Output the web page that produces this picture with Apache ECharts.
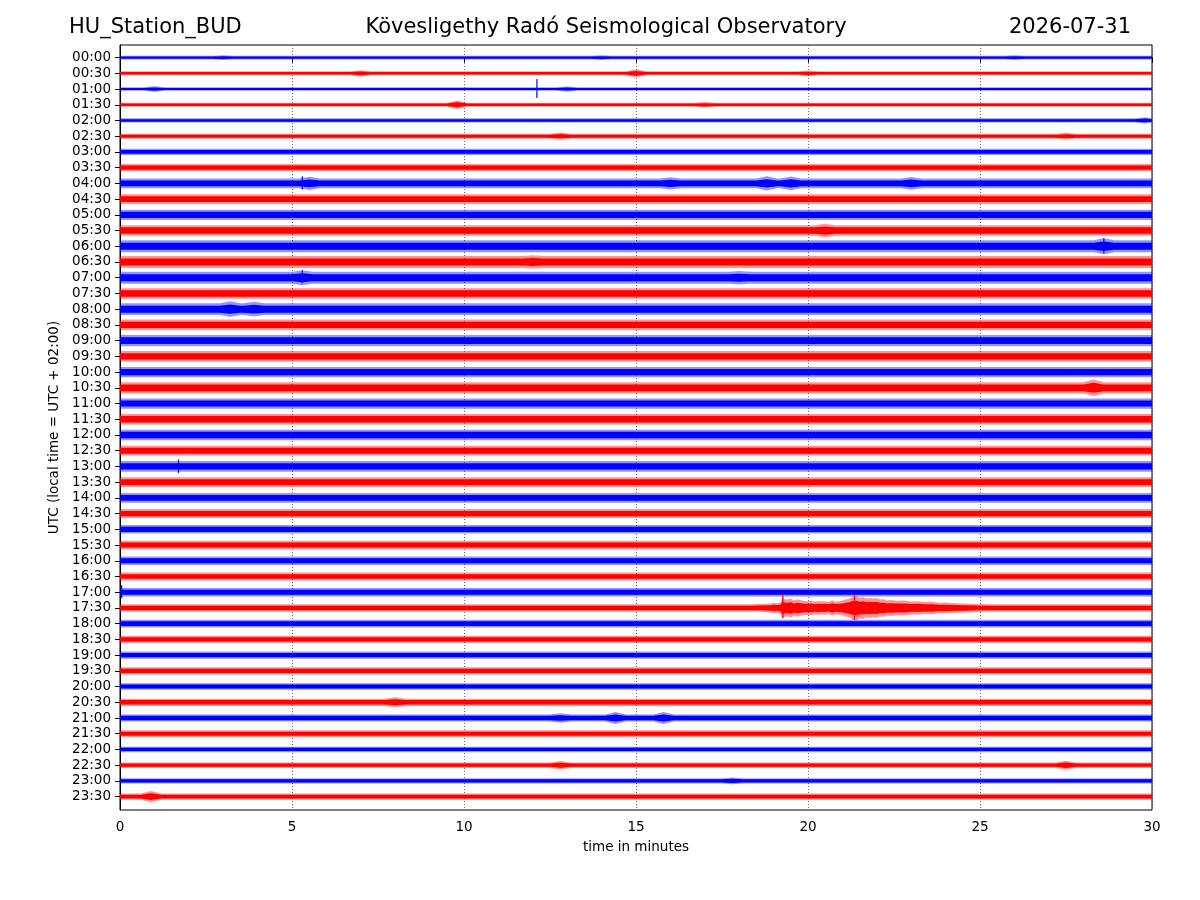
<!DOCTYPE html>
<html>
<head>
<meta charset="utf-8">
<script src="https://cdn.jsdelivr.net/npm/echarts@6/dist/echarts.min.js"></script>
<style>html,body{margin:0;padding:0;background:#fff}#c{width:1200px;height:900px}</style>
</head>
<body>
<div id="c"></div>
<script>
// ---- data ----
const stationName = 'HU_Station_BUD';
const observatory = 'Kövesligethy Radó Seismological Observatory';
const dayLabel = '2026-07-31';
// one trace per 30 minutes
const traceLabels = ['00:00','00:30','01:00','01:30','02:00','02:30','03:00','03:30','04:00','04:30','05:00','05:30','06:00','06:30','07:00','07:30','08:00','08:30','09:00','09:30','10:00','10:30','11:00','11:30','12:00','12:30','13:00','13:30','14:00','14:30','15:00','15:30','16:00','16:30','17:00','17:30','18:00','18:30','19:00','19:30','20:00','20:30','21:00','21:30','22:00','22:30','23:00','23:30'];
const minuteTicks = [0, 5, 10, 15, 20, 25, 30];
// background noise peak half-amplitude of each trace (counts; 15.7 counts = one trace spacing)
const baseAmp = [1.8,2.0,1.8,2.0,2.1,2.5,3.1,3.6,4.9,4.9,5.1,5.3,5.9,5.9,5.9,5.3,5.9,5.3,5.6,5.3,5.1,5.6,5.1,5.3,5.3,4.9,5.3,4.9,4.9,4.5,4.3,4.2,4.3,3.9,4.2,3.7,3.9,3.6,3.6,3.6,3.3,3.6,3.6,3.4,2.7,2.8,2.7,3.1];
// local bursts: [trace, minute, half-amplitude]
const bursts = [
  [0,3,2.4],[0,14,2.3],[0,26,2.4],
  [1,7,3.1],[1,15,4.0],[1,20,2.7],
  [2,1,2.7],[2,13,2.6],
  [3,9.8,4.2],[3,17,2.7],
  [4,29.8,3.1],
  [5,12.8,3.6],[5,27.5,3.4],
  [8,5.5,6.5],[8,16,6.1],[8,18.8,7.0],[8,19.5,6.8],[8,23,6.3],
  [11,20.5,6.8],
  [12,28.6,8.0],
  [13,12,6.8],
  [14,5.3,7.4],[14,18,6.8],
  [16,3.2,7.8],[16,3.9,7.4],
  [21,28.3,8.2],
  [41,8,5.0],
  [42,12.8,4.7],[42,14.4,6.0],[42,15.8,6.0],
  [45,12.8,4.2],[45,27.5,4.5],
  [46,17.8,3.4],
  [47,0.9,5.6]
];
// earthquake on the 17:30 trace: [minute, half-amplitude]
const quakeTrace = 35;
const quakeEnvelope = [[18.3,3.7],[18.6,3.9],[18.9,4.5],[19.0,5.2],[19.1,4.8],[19.2,5.5],[19.26,11],[19.3,9],[19.4,8.5],[19.5,9.5],[19.6,7.5],[19.7,8.8],[19.8,7.8],[19.9,7],[20.0,6.8],[20.1,7.2],[20.2,6.2],[20.3,7],[20.4,6.5],[20.5,6.8],[20.6,6],[20.7,7.8],[20.8,6.5],[20.9,6.8],[21.0,7.5],[21.1,8.5],[21.2,9.5],[21.3,11.5],[21.4,12],[21.5,10.5],[21.6,11],[21.7,9.5],[21.8,10],[21.9,9.5],[22.0,10],[22.1,8.5],[22.2,8.8],[22.3,7.5],[22.4,8],[22.6,7.2],[22.8,7.5],[23.0,6.5],[23.2,6.8],[23.4,6],[23.6,6.2],[23.8,5.2],[24.0,5.4],[24.3,4.8],[24.6,4.5],[24.9,4.0],[25.3,3.7]];
// narrow spikes: [trace, minute, up, down]
const spikes = [
  [2,12.12,10,9],[14,5.3,7.5,5.5],[12,28.6,8,7],[26,1.7,7,6.5],[34,0.05,7,6],[8,5.3,7,6],
  [35,19.27,14,10],[35,21.35,13,12]
];
const COUNTS_PER_TRACE = 15.7;
const BURST_HALF_WIDTH = 0.3; // minutes
const CORE_RATIO = 0.6;       // dense core of the noise band
const colors = [[0, 0, 255], [255, 0, 0]];

// build envelopes
const envelopes = traceLabels.map((_, i) => {
  let pts;
  if (i === quakeTrace) {
    pts = [[0, baseAmp[i]]].concat(quakeEnvelope, [[30, baseAmp[i]]]);
  } else {
    pts = [[0, baseAmp[i]], [30, baseAmp[i]]];
    bursts.filter(b => b[0] === i).forEach(b => {
      pts.push([b[1] - BURST_HALF_WIDTH, baseAmp[i]], [b[1], b[2]], [b[1] + BURST_HALF_WIDTH, baseAmp[i]]);
    });
    pts.sort((a, b) => a[0] - b[0]);
  }
  return pts;
});

const seriesData = traceLabels.map((_, i) => [0, i]);
const rgba = (c, a) => `rgba(${c[0]},${c[1]},${c[2]},${a})`;

const chart = echarts.init(document.getElementById('c'), null, {renderer: 'canvas'});
const FONT = 'DejaVu Sans';
chart.setOption({
  animation: false,
  backgroundColor: '#fff',
  graphic: [
    {type: 'text', x: 69, y: 28, style: {text: stationName, font: '21px "DejaVu Sans"', fill: '#000', textAlign: 'left', textVerticalAlign: 'middle'}},
    {type: 'text', x: 606, y: 28, style: {text: observatory, font: '21px "DejaVu Sans"', fill: '#000', textAlign: 'center', textVerticalAlign: 'middle'}},
    {type: 'text', x: 1131, y: 28, style: {text: dayLabel, font: '21px "DejaVu Sans"', fill: '#000', textAlign: 'right', textVerticalAlign: 'middle'}}
  ],
  grid: {left: 120, right: 48, top: 45, bottom: 90, show: true, borderColor: '#000', borderWidth: 1, containLabel: false},
  xAxis: {
    type: 'value', min: 0, max: 30, interval: 5,
    name: 'time in minutes', nameLocation: 'middle', nameGap: 30,
    nameTextStyle: {fontFamily: FONT, fontSize: 13.5, color: '#000'},
    axisLine: {lineStyle: {color: '#000', width: 1}},
    axisTick: {show: true, length: 5, lineStyle: {color: '#000'}},
    axisLabel: {fontFamily: FONT, fontSize: 13.5, color: '#000', margin: 10,
      formatter: v => minuteTicks.includes(v) ? String(v) : ''},
    splitLine: {show: true, lineStyle: {color: '#444', width: 0.8, type: [1, 2]}}
  },
  yAxis: {
    type: 'value', inverse: true, min: -0.8, max: 47.85,
    name: 'UTC (local time = UTC + 02:00)', nameLocation: 'middle', nameGap: 53,
    nameTextStyle: {fontFamily: FONT, fontSize: 13.5, color: '#000'},
    axisLine: {show: true, lineStyle: {color: '#000', width: 1}},
    axisTick: {show: true, length: 5, lineStyle: {color: '#000'}, customValues: traceLabels.map((_, i) => i)},
    axisLabel: {fontFamily: FONT, fontSize: 13.5, color: '#000', margin: 9,
      customValues: traceLabels.map((_, i) => i),
      formatter: v => traceLabels[Math.round(v)] || ''},
    splitLine: {show: false}
  },
  series: [{
    type: 'custom',
    clip: true,
    data: seriesData,
    encode: {x: 0, y: 1},
    renderItem: (params, api) => {
      const idx = api.value(1);
      const env = envelopes[idx];
      const c = colors[idx % 2];
      const band = (ratio) => {
        const upper = env.map(p => api.coord([p[0], idx - ratio * p[1] / COUNTS_PER_TRACE]));
        const lower = env.slice().reverse().map(p => api.coord([p[0], idx + ratio * p[1] / COUNTS_PER_TRACE]));
        return upper.concat(lower);
      };
      const children = [
        {type: 'polygon', shape: {points: band(1)}, style: {fill: rgba(c, 0.42)}},
        {type: 'polygon', shape: {points: band(CORE_RATIO)}, style: {fill: rgba(c, 1)}}
      ];
      spikes.filter(s => s[0] === idx).forEach(s => {
        const a = api.coord([s[1], idx - s[2] / COUNTS_PER_TRACE]);
        const b = api.coord([s[1], idx + s[3] / COUNTS_PER_TRACE]);
        children.push({type: 'line', shape: {x1: a[0], y1: a[1], x2: b[0], y2: b[1]}, style: {stroke: rgba(c, 1), lineWidth: 1.2}});
      });
      return {type: 'group', children};
    }
  }]
});
</script>
</body>
</html>
